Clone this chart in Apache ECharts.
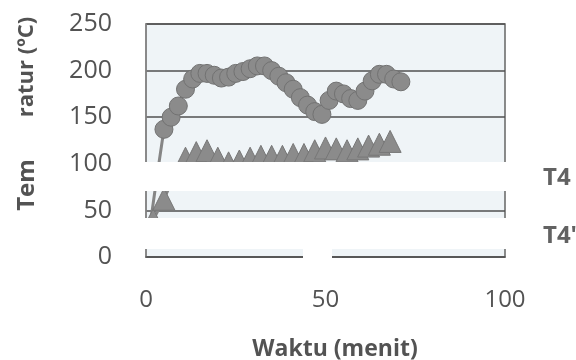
<!DOCTYPE html>
<html>
<head>
<meta charset="utf-8">
<script src="https://cdn.jsdelivr.net/npm/echarts@6/dist/echarts.min.js"></script>
<style>
  html, body { margin: 0; padding: 0; background: #ffffff; }
  #chart { width: 576px; height: 360px; }
</style>
</head>
<body>
<div id="chart"></div>
<script>
// time in minutes and temperature in degC
const t4Minutes = [1, 3, 5, 7, 9, 11, 13, 15, 17, 19, 21, 23, 25, 27, 29, 31, 33, 35,
  37, 39, 41, 43, 45, 47, 49, 51, 53, 55, 57, 59, 61, 63, 65, 67, 69, 71];
const t4Values = [30, 85, 137, 150, 162, 180, 191, 197, 197, 195, 192, 193, 197, 199, 202, 205, 205, 200,
  194, 187, 180, 171, 163, 156, 153, 168, 178, 175, 170, 168, 178, 189, 196, 196, 191, 188];

const t4pMinutes = [2, 5, 8, 11, 14, 17, 20, 23, 26, 29, 32, 35, 38, 41, 44, 47, 50, 53, 56, 59, 62, 65, 68];
const t4pValues = [40, 62, 88, 106, 112, 114, 106, 101, 103, 106, 108, 108, 108, 110, 110, 114, 117, 116, 114, 116, 119, 121, 124];

const yTicks = [0, 50, 100, 150, 200, 250];
const xTicks = [0, 50, 100];

const FONT = 'Open Sans';
const GREY = '#535353';

const chart = echarts.init(document.getElementById('chart'));

const pair = (xs, ys) => xs.map((x, i) => [x, ys[i]]);

// white patches that hide parts of the scanned figure
const patch = (x, y, w, h) => ({
  type: 'rect',
  z: 100,
  shape: { x: x, y: y, width: w, height: h },
  style: { fill: '#ffffff' },
  silent: true
});

chart.setOption({
  backgroundColor: '#ffffff',
  animation: false,
  grid: {
    left: 146,
    right: 71,
    top: 24,
    bottom: 103,
    show: true,
    backgroundColor: '#eff4f7',
    borderColor: '#666666',
    borderWidth: 1.5
  },
  legend: {
    orient: 'vertical',
    left: 533,
    top: 161,
    itemWidth: 0,
    itemHeight: 0,
    itemGap: 34,
    icon: 'none',
    data: ['T4', "T4'"],
    textStyle: { fontFamily: FONT, fontSize: 24, fontWeight: 'bold', color: '#626262' }
  },
  xAxis: {
    type: 'value',
    min: xTicks[0],
    max: xTicks[xTicks.length - 1],
    interval: 50,
    axisLine: { show: true, lineStyle: { color: '#555555', width: 1.5 } },
    axisTick: { show: false },
    splitLine: { show: false },
    axisLabel: { fontFamily: FONT, fontSize: 24, color: GREY, margin: 31 }
  },
  yAxis: {
    type: 'value',
    min: yTicks[0],
    max: yTicks[yTicks.length - 1],
    interval: 50,
    axisLine: { show: true, lineStyle: { color: '#8a8a8a', width: 1.5 } },
    axisTick: { show: false },
    splitLine: { show: true, lineStyle: { color: '#505050', width: 1.5 } },
    axisLabel: { fontFamily: FONT, fontSize: 25, color: GREY, margin: 34 }
  },
  series: [
    {
      name: 'T4',
      type: 'line',
      data: pair(t4Minutes, t4Values),
      symbol: 'circle',
      symbolSize: 18,
      lineStyle: { color: '#858585', width: 3 },
      itemStyle: { color: '#8b8b8b', borderColor: '#727272', borderWidth: 1 }
    },
    {
      name: "T4'",
      type: 'line',
      data: pair(t4pMinutes, t4pValues),
      symbol: 'triangle',
      symbolSize: 22,
      lineStyle: { color: '#858585', width: 3 },
      itemStyle: { color: '#8b8b8b', borderColor: '#777777', borderWidth: 1 }
    }
  ],
  graphic: [
    patch(124, 162, 396, 29),
    patch(124, 218, 396, 31),
    patch(303, 249, 29, 20),
    {
      type: 'text',
      x: 27, y: 67,
      rotation: Math.PI / 2,
      style: {
        text: 'ratur (ºC)',
        fontFamily: FONT, fontSize: 22, fontWeight: 'bold', fill: GREY,
        align: 'center', verticalAlign: 'middle'
      }
    },
    {
      type: 'text',
      x: 27, y: 185,
      rotation: Math.PI / 2,
      style: {
        text: 'Tem',
        fontFamily: FONT, fontSize: 24, fontWeight: 'bold', fill: GREY,
        align: 'center', verticalAlign: 'middle'
      }
    },
    {
      type: 'text',
      x: 335, y: 349,
      style: {
        text: 'Waktu (menit)',
        fontFamily: FONT, fontSize: 23, fontWeight: 'bold', fill: GREY,
        align: 'center', verticalAlign: 'middle'
      }
    }
  ]
});
</script>
</body>
</html>
